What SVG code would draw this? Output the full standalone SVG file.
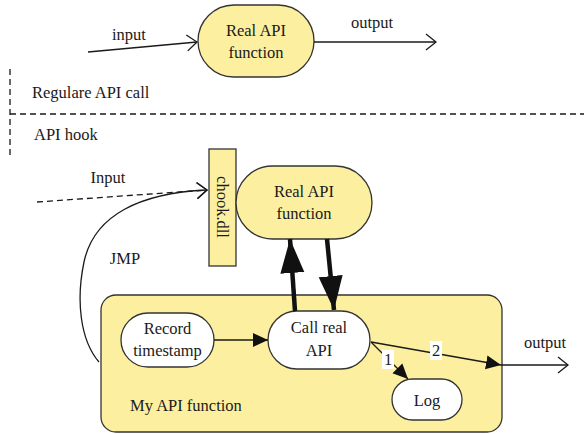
<svg xmlns="http://www.w3.org/2000/svg" width="584" height="434" viewBox="0 0 584 434">
<style>
text{font-family:'Liberation Serif','Tinos','DejaVu Serif',serif;font-size:16.5px;fill:#1a1a1a}
.c{text-anchor:middle}
.y{fill:#fcf0a0;stroke:#333;stroke-width:1.3}
.w{fill:#fff;stroke:#333;stroke-width:1.3}
.ln{fill:none;stroke:#1a1a1a;stroke-width:1.3}
.d{stroke-dasharray:6 4}
.th{fill:none;stroke:#111;stroke-width:4.5}
</style>
<defs>
<marker id="open" markerUnits="userSpaceOnUse" markerWidth="14" markerHeight="20" refX="11" refY="9" orient="auto" viewBox="0 0 14 20">
<path d="M1 1 L11 9 L1 17" fill="none" stroke="#1a1a1a" stroke-width="1.3"/>
</marker>
<marker id="fill" markerUnits="userSpaceOnUse" markerWidth="16" markerHeight="16" refX="15" refY="7" orient="auto" viewBox="0 0 16 14">
<path d="M0 0 L15 7 L0 14 Z" fill="#111"/>
</marker>
<marker id="big" markerUnits="userSpaceOnUse" markerWidth="36" markerHeight="26" refX="34" refY="12" orient="auto" viewBox="0 0 36 24">
<path d="M0 0 L34 12 L0 24 Z" fill="#111"/>
</marker>
</defs>

<g id="separators">
<line x1="10" y1="69" x2="10" y2="156" class="ln d"/>
<line x1="10" y1="114" x2="584" y2="114" class="ln d"/>
<text x="32" y="98">Regulare API call</text>
<text x="34" y="140">API hook</text>
</g>

<g id="real-api-top">
<rect x="198" y="5" width="116" height="72" rx="36" class="y"/>
<text x="256" y="36" class="c">Real API</text>
<text x="256" y="58" class="c">function</text>
</g>

<g id="chook">
<rect x="209" y="149" width="27" height="117" class="y"/>
<text x="0" y="0" class="c" transform="translate(217 207) rotate(90)">chook.dll</text>
</g>

<g id="real-api-hook">
<rect x="236" y="166" width="136" height="73" rx="36.5" class="y"/>
<text x="304" y="197" class="c">Real API</text>
<text x="304" y="219" class="c">function</text>
</g>

<g id="my-api-function">
<rect x="101" y="295" width="401" height="137" rx="15" class="y"/>
<text x="130" y="411">My API function</text>
</g>

<g id="record-timestamp">
<rect x="121" y="313" width="93" height="54" rx="27" class="w"/>
<text x="167.5" y="334" class="c">Record</text>
<text x="167.5" y="356" class="c">timestamp</text>
</g>

<g id="call-real-api">
<rect x="268" y="311" width="102" height="58" rx="29" class="w"/>
<text x="319" y="333" class="c">Call real</text>
<text x="319" y="356" class="c">API</text>
</g>

<g id="log">
<rect x="392" y="379" width="70" height="41" rx="20.5" class="w"/>
<text x="427" y="406" class="c">Log</text>
</g>

<g id="connectors">
<line x1="88" y1="52" x2="197" y2="42" class="ln" marker-end="url(#open)"/>
<text x="129" y="40" class="c">input</text>
<line x1="314" y1="42" x2="436" y2="42" class="ln" marker-end="url(#open)"/>
<text x="372" y="28" class="c">output</text>

<line x1="37" y1="202" x2="207" y2="190" class="ln d" marker-end="url(#open)"/>
<text x="108" y="183" class="c">Input</text>
<path d="M 99 362 C 80 340, 76 300, 84 262 C 94 215, 140 193, 207 190" class="ln" marker-end="url(#open)"/>
<text x="125" y="264" class="c">JMP</text>

<line x1="295" y1="311" x2="290" y2="239" class="th" marker-end="url(#big)"/>
<line x1="327" y1="239" x2="334" y2="310" class="th" marker-end="url(#big)"/>

<line x1="214" y1="340" x2="268" y2="340" class="ln" marker-end="url(#fill)"/>
<line x1="371" y1="342" x2="408" y2="379" class="ln" marker-end="url(#fill)"/>
<rect x="382" y="350" width="12" height="19" fill="#fff"/>
<text x="388" y="365" class="c">1</text>
<line x1="371" y1="342" x2="501" y2="365" class="ln" marker-end="url(#fill)"/>
<rect x="430" y="341" width="12" height="19" fill="#fff"/>
<text x="436" y="356" class="c">2</text>
<line x1="501" y1="365" x2="568" y2="365" class="ln" marker-end="url(#open)"/>
<text x="545" y="348" class="c">output</text>
</g>
</svg>
